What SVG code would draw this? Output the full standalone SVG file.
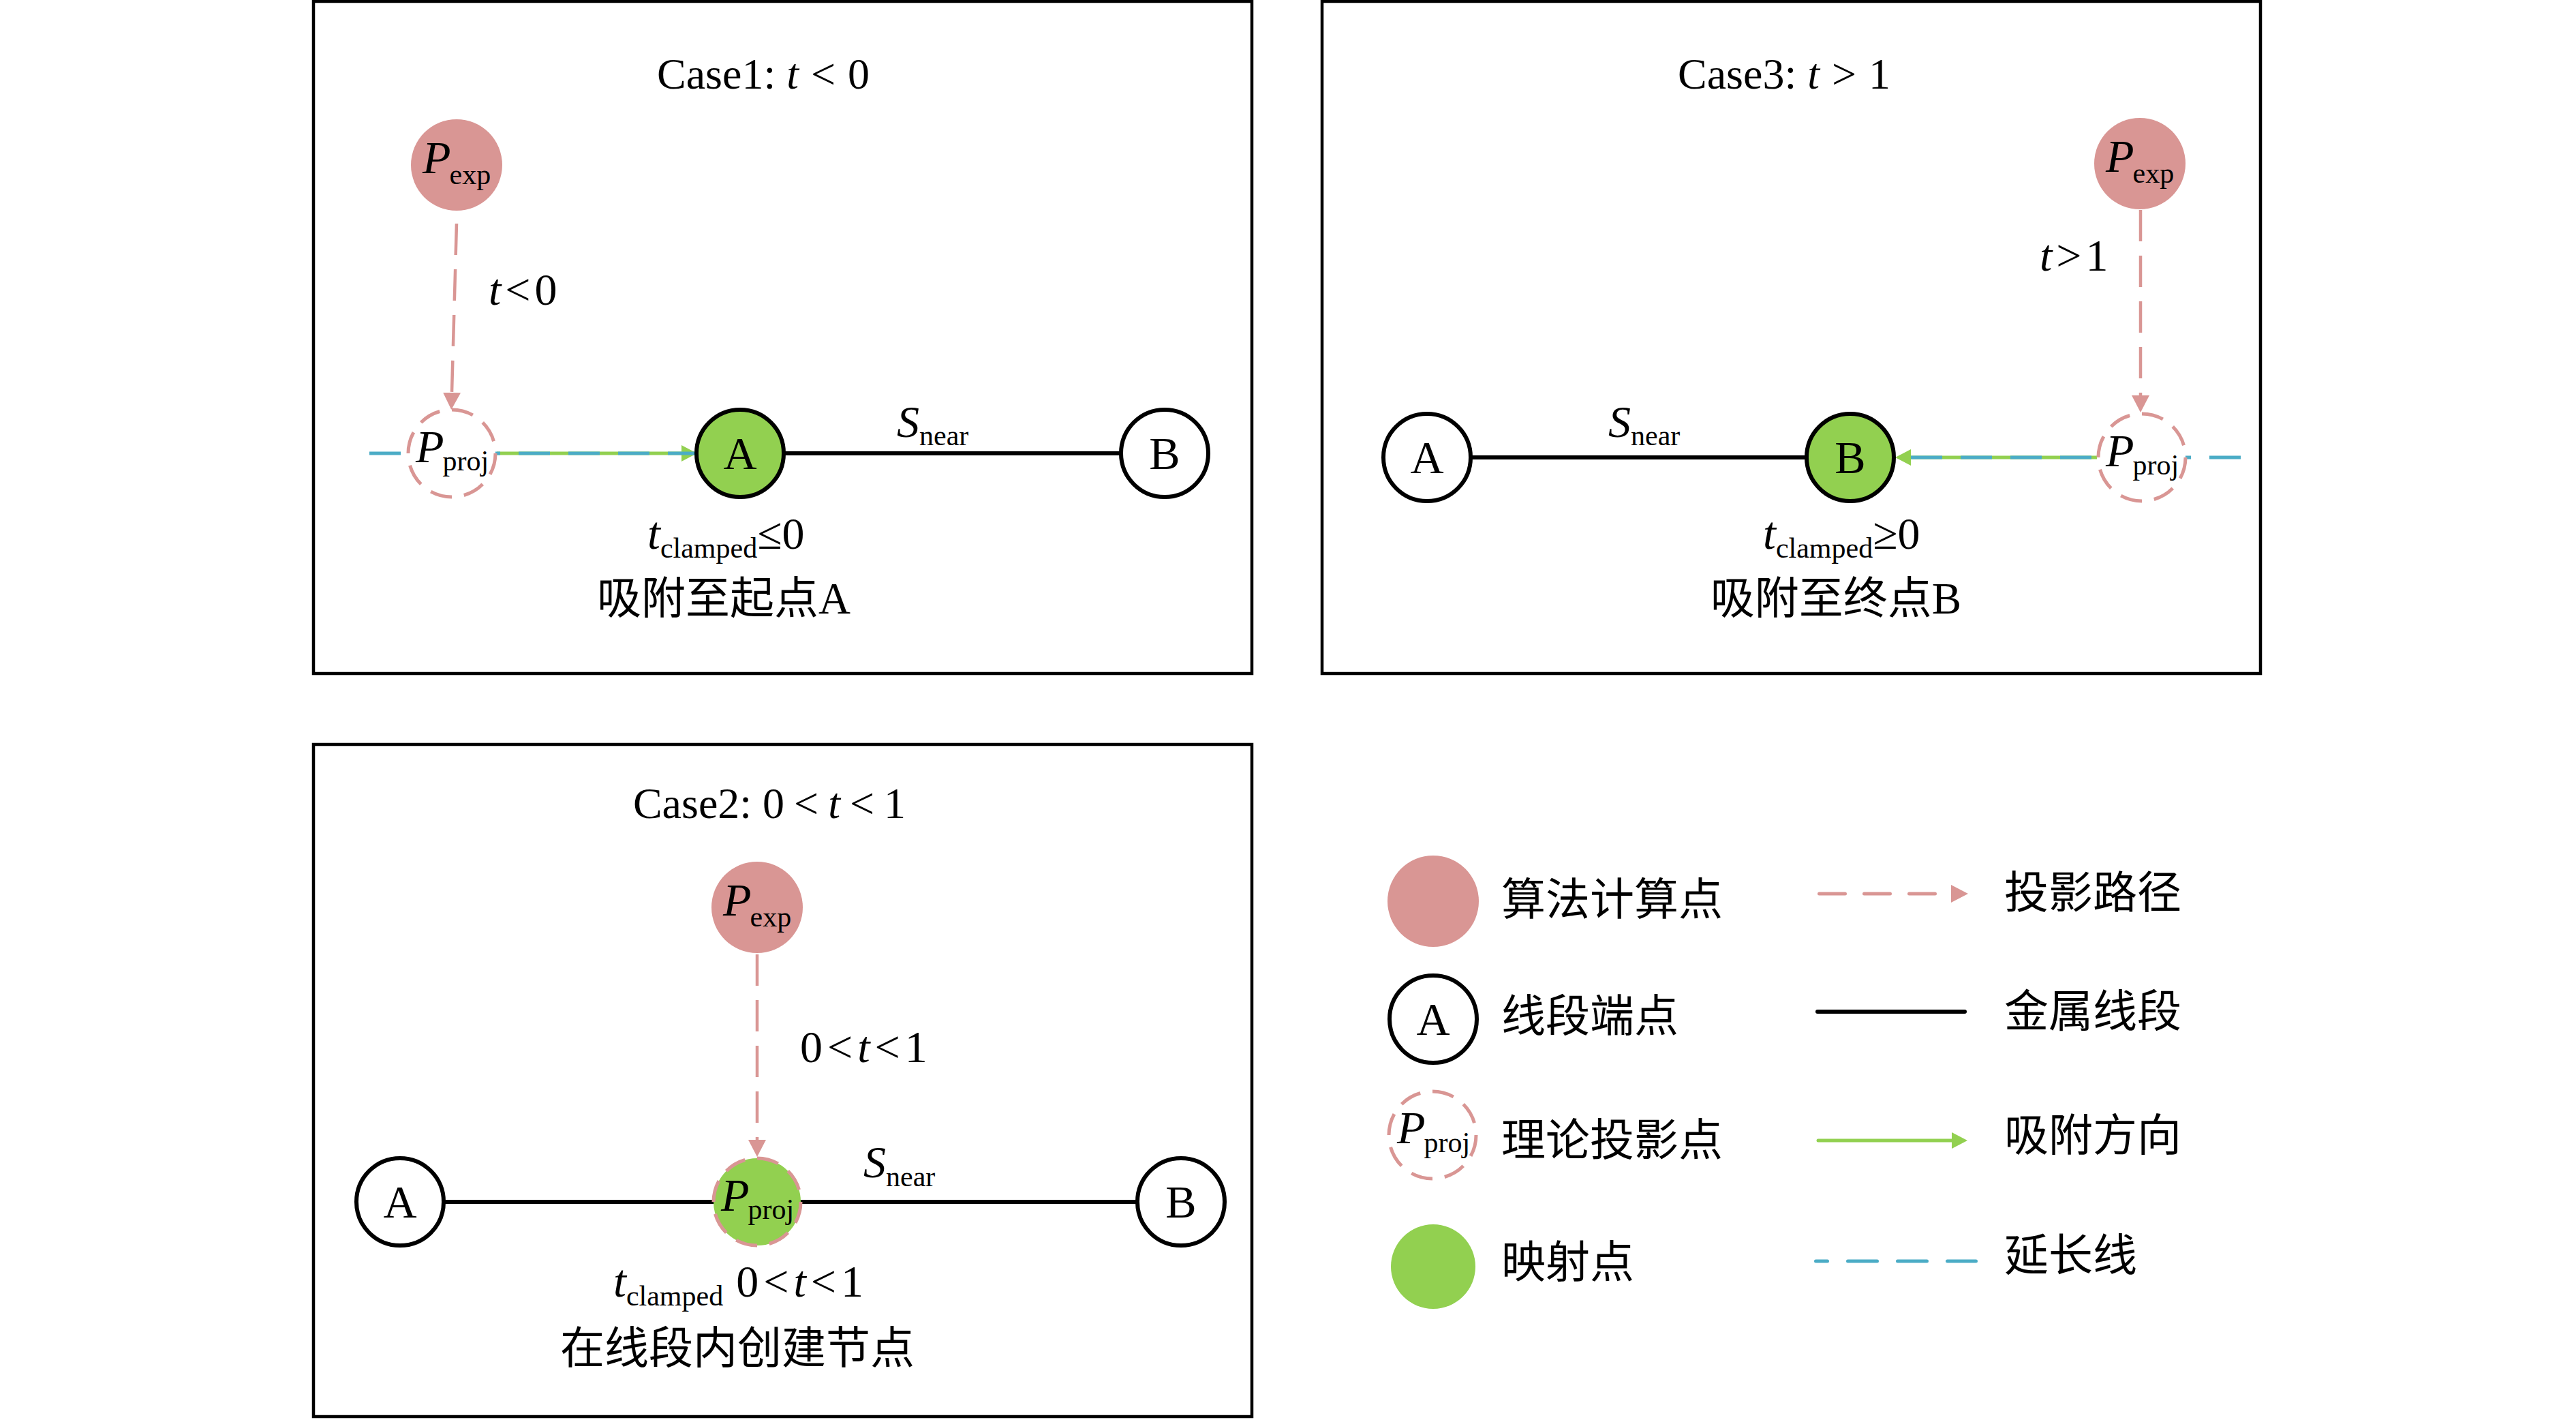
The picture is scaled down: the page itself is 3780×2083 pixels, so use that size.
<svg xmlns="http://www.w3.org/2000/svg" width="3780" height="2083" viewBox="0 0 3780 2083">
<style>
.t{font-family:"Liberation Serif","DejaVu Serif",serif;fill:#000}
.i{font-style:italic}
.cjk{font-family:"Liberation Serif","Noto Sans CJK SC",sans-serif;fill:#000}
.box{fill:none;stroke:#000;stroke-width:4.5}
.seg{stroke:#000;stroke-width:6;fill:none}
.ep{fill:#fff;stroke:#000;stroke-width:6}
.map{fill:#92D050;stroke:#000;stroke-width:6}
.exp{fill:#D99694}
.proj{fill:#fff;stroke:#D99694;stroke-width:5;stroke-dasharray:32 18}
.projg{fill:#92D050;stroke:#D99694;stroke-width:5;stroke-dasharray:32 18}
.path{stroke:#D99694;stroke-width:4.5;stroke-dasharray:46 21;fill:none}
.ext{stroke:#4BACC6;stroke-width:5;stroke-dasharray:46 27;fill:none}
.snap{stroke:#92D050;stroke-width:5;fill:none}
</style>
<defs>
<marker id="ahP" markerUnits="userSpaceOnUse" markerWidth="26" markerHeight="26" refX="0" refY="13" orient="auto"><path d="M0,0 L25,13 L0,26 Z" fill="#D99694"/></marker>
<marker id="ahG" markerUnits="userSpaceOnUse" markerWidth="24" markerHeight="24" refX="0" refY="12" orient="auto"><path d="M0,0 L23,12 L0,24 Z" fill="#92D050"/></marker>
</defs>

<g id="frames">
<rect class="box" x="460" y="2" width="1377" height="986"/>
<rect class="box" x="1940" y="2" width="1377" height="986"/>
<rect class="box" x="460" y="1092" width="1377" height="986"/>
</g>

<g id="connectors">
<!-- Case 1 -->
<line class="seg" x1="1086" y1="665" x2="1709" y2="665"/>
<line class="snap" x1="729" y1="665" x2="1000" y2="665" marker-end="url(#ahG)"/>
<line class="ext" x1="542" y1="665" x2="1025" y2="665"/>
<line class="path" x1="670" y1="328" x2="663" y2="576" marker-end="url(#ahP)"/>
<!-- Case 3 -->
<line class="seg" x1="2094" y1="671" x2="2715" y2="671"/>
<line class="snap" x1="3077" y1="671" x2="2804" y2="671" marker-end="url(#ahG)"/>
<line class="ext" x1="3288" y1="671" x2="2781" y2="671"/>
<line class="path" x1="3141" y1="308" x2="3141" y2="580" marker-end="url(#ahP)"/>
<!-- Case 2 -->
<line class="seg" x1="587" y1="1763" x2="1733" y2="1763"/>
<line class="path" x1="1111" y1="1400" x2="1111" y2="1672" marker-end="url(#ahP)"/>
</g>

<!-- Case 1 -->
<g id="case1-title"><text class="t" x="1120" y="130" font-size="64" text-anchor="middle">Case1: <tspan class="i">t</tspan><tspan dx="18">&lt;</tspan><tspan dx="18">0</tspan></text></g>
<g id="case1-pexp"><circle class="exp" cx="670" cy="242" r="67"/><text class="t" x="620" y="254" font-size="68"><tspan class="i">P</tspan><tspan font-size="42" dx="-2" dy="16">exp</tspan></text></g>
<g id="case1-tlabel"><text class="t" x="717" y="447" font-size="66"><tspan class="i">t</tspan><tspan dx="6">&lt;</tspan><tspan dx="6">0</tspan></text></g>
<g id="case1-pproj"><circle class="proj" cx="663" cy="665" r="64" pathLength="400"/><text class="t" x="610" y="678" font-size="68"><tspan class="i">P</tspan><tspan font-size="42" dx="-2" dy="12">proj</tspan></text></g>
<g id="case1-A"><circle class="map" cx="1086" cy="665" r="64"/><text class="t" x="1086" y="688" font-size="68" text-anchor="middle">A</text></g>
<g id="case1-B"><circle class="ep" cx="1709" cy="665" r="64"/><text class="t" x="1709" y="688" font-size="68" text-anchor="middle">B</text></g>
<g id="case1-snear"><text class="t" x="1316" y="641" font-size="66"><tspan class="i">S</tspan><tspan font-size="42" dx="0" dy="12">near</tspan></text></g>
<g id="case1-clamp"><text class="t" x="950" y="805" font-size="68"><tspan class="i">t</tspan><tspan font-size="42" dy="13">clamped</tspan><tspan font-size="66" dy="-13">≤0</tspan></text>
<text class="cjk" x="1062" y="900" font-size="65" text-anchor="middle">吸附至起点A</text></g>

<!-- Case 3 -->
<g id="case3-title"><text class="t" x="2618" y="130" font-size="64" text-anchor="middle">Case3: <tspan class="i">t</tspan><tspan dx="18">&gt;</tspan><tspan dx="18">1</tspan></text></g>
<g id="case3-pexp"><circle class="exp" cx="3140" cy="240" r="67"/><text class="t" x="3090" y="252" font-size="68"><tspan class="i">P</tspan><tspan font-size="42" dx="-2" dy="16">exp</tspan></text></g>
<g id="case3-tlabel"><text class="t" x="2993" y="397" font-size="66"><tspan class="i">t</tspan><tspan dx="6">&gt;</tspan><tspan dx="6">1</tspan></text></g>
<g id="case3-pproj"><circle class="proj" cx="3143" cy="671" r="64" pathLength="400"/><text class="t" x="3090" y="684" font-size="68"><tspan class="i">P</tspan><tspan font-size="42" dx="-2" dy="12">proj</tspan></text></g>
<g id="case3-A"><circle class="ep" cx="2094" cy="671" r="64"/><text class="t" x="2094" y="694" font-size="68" text-anchor="middle">A</text></g>
<g id="case3-B"><circle class="map" cx="2715" cy="671" r="64"/><text class="t" x="2715" y="694" font-size="68" text-anchor="middle">B</text></g>
<g id="case3-snear"><text class="t" x="2360" y="641" font-size="66"><tspan class="i">S</tspan><tspan font-size="42" dy="12">near</tspan></text></g>
<g id="case3-clamp"><text class="t" x="2587" y="805" font-size="68"><tspan class="i">t</tspan><tspan font-size="42" dy="13">clamped</tspan><tspan font-size="66" dy="-13">≥0</tspan></text>
<text class="cjk" x="2694" y="900" font-size="65" text-anchor="middle">吸附至终点B</text></g>

<!-- Case 2 -->
<g id="case2-title"><text class="t" x="1129" y="1200" font-size="64" text-anchor="middle">Case2: 0<tspan dx="14">&lt;</tspan><tspan class="i" dx="14">t</tspan><tspan dx="14">&lt;</tspan><tspan dx="14">1</tspan></text></g>
<g id="case2-pexp"><circle class="exp" cx="1111" cy="1331" r="67"/><text class="t" x="1061" y="1343" font-size="68"><tspan class="i">P</tspan><tspan font-size="42" dx="-2" dy="16">exp</tspan></text></g>
<g id="case2-tlabel"><text class="t" x="1174" y="1558" font-size="66">0<tspan dx="7">&lt;</tspan><tspan class="i" dx="7">t</tspan><tspan dx="7">&lt;</tspan><tspan dx="7">1</tspan></text></g>
<g id="case2-A"><circle class="ep" cx="587" cy="1763" r="64"/><text class="t" x="587" y="1786" font-size="68" text-anchor="middle">A</text></g>
<g id="case2-B"><circle class="ep" cx="1733" cy="1763" r="64"/><text class="t" x="1733" y="1786" font-size="68" text-anchor="middle">B</text></g>
<g id="case2-pproj"><circle class="projg" cx="1111" cy="1763" r="64" pathLength="400"/><text class="t" x="1058" y="1776" font-size="68"><tspan class="i">P</tspan><tspan font-size="42" dx="-2" dy="12">proj</tspan></text></g>
<g id="case2-snear"><text class="t" x="1267" y="1727" font-size="66"><tspan class="i">S</tspan><tspan font-size="42" dy="13">near</tspan></text></g>
<g id="case2-clamp"><text class="t" x="900" y="1902" font-size="68"><tspan class="i">t</tspan><tspan font-size="42" dy="13">clamped</tspan><tspan font-size="66" dy="-13" dx="19">0</tspan><tspan font-size="66" dx="7">&lt;</tspan><tspan font-size="66" class="i" dx="7">t</tspan><tspan font-size="66" dx="7">&lt;</tspan><tspan font-size="66" dx="7">1</tspan></text>
<text class="cjk" x="1082" y="2000" font-size="65" text-anchor="middle">在线段内创建节点</text></g>

<!-- Legend -->
<g id="legend">
<g id="lg-exp"><circle class="exp" cx="2103" cy="1322" r="67"/><text class="cjk" x="2203" y="1342" font-size="65">算法计算点</text></g>
<g id="lg-ep"><circle class="ep" cx="2103" cy="1495" r="64"/><text class="t" x="2103" y="1518" font-size="68" text-anchor="middle">A</text><text class="cjk" x="2203" y="1513" font-size="65">线段端点</text></g>
<g id="lg-proj"><circle class="proj" cx="2102" cy="1665" r="64" pathLength="400"/><text class="t" x="2050" y="1677" font-size="68"><tspan class="i">P</tspan><tspan font-size="42" dx="-2" dy="13">proj</tspan></text><text class="cjk" x="2203" y="1695" font-size="65">理论投影点</text></g>
<g id="lg-map"><circle fill="#92D050" cx="2103" cy="1858" r="62"/><text class="cjk" x="2203" y="1874" font-size="65">映射点</text></g>
<g id="lg-path"><line x1="2669.5" y1="1311" x2="2863" y2="1311" stroke="#D99694" stroke-width="5" stroke-linecap="round" stroke-dasharray="38 28" marker-end="url(#ahP)"/><text class="cjk" x="2941" y="1332" font-size="65">投影路径</text></g>
<g id="lg-seg"><line x1="2667" y1="1484" x2="2883" y2="1484" stroke="#000" stroke-width="6" stroke-linecap="round"/><text class="cjk" x="2941" y="1506" font-size="65">金属线段</text></g>
<g id="lg-snap"><line x1="2668" y1="1673" x2="2864" y2="1673" stroke="#92D050" stroke-width="5" stroke-linecap="round" marker-end="url(#ahG)"/><text class="cjk" x="2941" y="1688" font-size="65">吸附方向</text></g>
<g id="lg-ext"><line x1="2664.5" y1="1850" x2="2899.5" y2="1850" stroke="#4BACC6" stroke-width="5" stroke-linecap="round" stroke-dasharray="43 30" stroke-dashoffset="26"/><text class="cjk" x="2941" y="1864" font-size="65">延长线</text></g>
</g>
</svg>
